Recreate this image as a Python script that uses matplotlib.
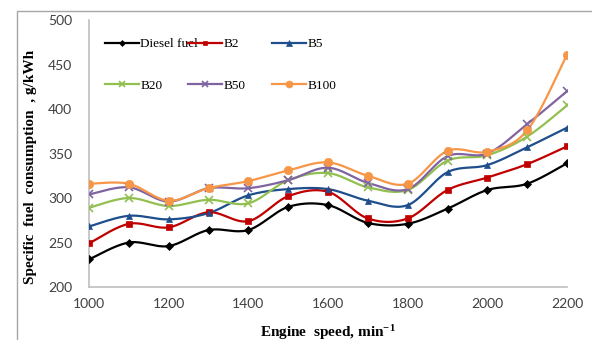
import numpy as np
import matplotlib
matplotlib.use("Agg")
import matplotlib.pyplot as plt
from matplotlib.patches import Rectangle
from matplotlib.legend import Legend

plt.rcParams["mathtext.fontset"] = "custom"
plt.rcParams["mathtext.rm"] = "Liberation Serif:bold"
plt.rcParams["mathtext.bf"] = "Liberation Serif:bold"
plt.rcParams["mathtext.it"] = "Liberation Serif:bold"

speed = [1000, 1100, 1200, 1300, 1400, 1500, 1600, 1700, 1800, 1900, 2000, 2100, 2200]
diesel = [231, 250, 246, 264, 264, 290, 292, 272, 271, 288, 309, 316, 339]
b2 = [249, 271, 267, 284, 274, 302, 307, 277, 277, 309, 323, 338, 358]
b5 = [268, 280, 276, 283, 303, 310, 310, 297, 292, 329, 337, 357, 379]
b20 = [289, 300, 291, 298, 294, 320, 328, 312, 309, 342, 348, 369, 404]
b50 = [304, 312, 296, 311, 311, 320, 334, 317, 310, 347, 350, 383, 420]
b100 = [316, 316, 297, 311, 319, 331, 340, 325, 316, 353, 352, 376, 461]

series = [
    ("Diesel fuel", diesel, "#000000", "D", 4),
    ("B2", b2, "#C00000", "s", 4),
    ("B5", b5, "#1F4E8C", "^", 5),
    ("B20", b20, "#92C050", "x", 6),
    ("B50", b50, "#8064A2", "x", 6),
    ("B100", b100, "#F79646", "o", 6),
]


def smooth(x, y, n=20):
    # Catmull-Rom style smoothing through the data points (like Excel smoothed lines)
    x = np.asarray(x, float); y = np.asarray(y, float)
    px = np.concatenate([[x[0]], x, [x[-1]]])
    py = np.concatenate([[y[0]], y, [y[-1]]])
    xs, ys = [], []
    for i in range(1, len(px) - 2):
        p0, p1, p2, p3 = (np.array([px[j], py[j]]) for j in (i - 1, i, i + 1, i + 2))
        c1 = p1 + (p2 - p0) / 6
        c2 = p2 - (p3 - p1) / 6
        t = np.linspace(0, 1, n)[:, None]
        pts = (1 - t) ** 3 * p1 + 3 * (1 - t) ** 2 * t * c1 + 3 * (1 - t) * t ** 2 * c2 + t ** 3 * p2
        xs.append(pts[:, 0]); ys.append(pts[:, 1])
    return np.concatenate(xs), np.concatenate(ys)


fig = plt.figure(figsize=(5.92, 3.4), dpi=100)
ax = fig.add_axes([89 / 592, 1 - 287 / 340, (567 - 89) / 592, (287 - 20) / 340])

handles = []
for name, vals, col, mk, ms in series:
    sx, sy = smooth(speed, vals)
    ax.plot(sx, sy, color=col, lw=1.6, zorder=2)
    mew = 1.2 if mk == "x" else 0.5
    ax.plot(speed, vals, linestyle="none", marker=mk, color=col, ms=ms, mew=mew, zorder=3)
    h, = ax.plot([], [], color=col, lw=1.6, marker=mk, ms=ms - 1, mew=mew)
    handles.append((h, name))

ax.set_xlim(1000, 2200)
ax.set_ylim(200, 500)
ax.set_xticks(range(1000, 2201, 200))
ax.set_yticks(range(200, 501, 50))
for s in ("top", "right"):
    ax.spines[s].set_visible(False)
for s in ("left", "bottom"):
    ax.spines[s].set_color("#BFBFBF")
    ax.spines[s].set_linewidth(1.2)
ax.tick_params(length=0, labelsize=10, colors="#404040")
for lbl in ax.get_xticklabels() + ax.get_yticklabels():
    lbl.set_fontfamily("Lato")
ax.tick_params(axis="x", pad=8)
ax.tick_params(axis="y", pad=12)

ax.set_xlabel("Engine  speed, min$^{-1}$", fontfamily="Liberation Serif", fontweight="bold",
              fontsize=11, labelpad=9)
ax.set_ylabel("Specific  fuel  consumption  , g/kWh", fontfamily="Liberation Serif",
              fontweight="bold", fontsize=11)
ax.yaxis.set_label_coords(-0.108, 0.45)

# legend entries laid out as 2 rows x 3 columns (row-major)
col_x = [0.033, 0.207, 0.383]
row_y = [0.91, 0.753]
for i, (h, name) in enumerate(handles):
    r, c = divmod(i, 3)
    lg = Legend(ax, [h], [name], loc="center left", bbox_to_anchor=(col_x[c], row_y[r]),
                frameon=False, borderpad=0, borderaxespad=0,
                prop={"family": "Liberation Serif", "size": 9.5},
                handlelength=2.6, handletextpad=0.1)
    ax.add_artist(lg)

# outer chart border
fig.patches.append(Rectangle((17 / 592, -0.1), 1.2, 1 - 11 / 340 + 0.1, transform=fig.transFigure,
                             fill=False, edgecolor="#A6A6A6", lw=1.0))

fig.savefig("out.png", dpi=100)
